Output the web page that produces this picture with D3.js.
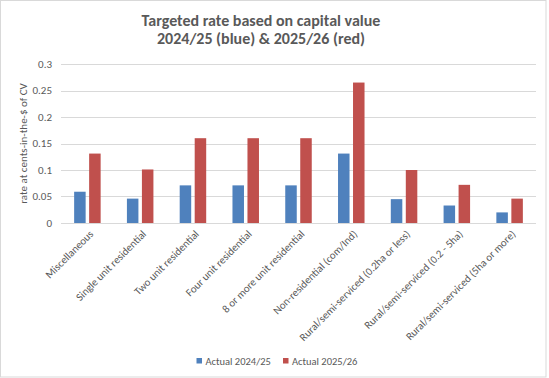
<!DOCTYPE html>
<html><head><meta charset="utf-8">
<script src="https://cdn.jsdelivr.net/npm/d3@7"></script>
<style>body{margin:0;background:#fff}svg{display:block}text{font-family:Carlito,Calibri,Lato,"Open Sans",sans-serif}</style>
</head><body>
<svg id="c" width="549" height="378"></svg>
<script>
const categories = ["Miscellaneous","Single unit residential","Two unit residential","Four unit residential","8 or more unit residential","Non-residential (com/Ind)","Rural/semi-serviced (0.2ha or less)","Rural/semi-serviced (0.2 - 5ha)","Rural/semi-serviced (5ha or more)"];
const seriesNames = ["Actual 2024/25","Actual 2025/26"];
const values2425 = [0.059,0.046,0.071,0.071,0.071,0.131,0.045,0.033,0.020];
const values2526 = [0.131,0.101,0.160,0.160,0.160,0.265,0.100,0.072,0.046];
const yTicks = [0,0.05,0.1,0.15,0.2,0.25,0.3];
const yTickLabels = ["0","0.05","0.1","0.15","0.2","0.25","0.3"];
const colors = ["#4f81bd","#c0504d"];

const svg = d3.select("#c");
svg.append("rect").attr("x",0.5).attr("y",0.5).attr("width",545.5).attr("height",376.5).attr("fill","#fff").attr("stroke","#d9d9d9");

const pLeft=61,pRight=536,pTop=64,pBottom=223;
const x0 = d3.scaleBand().domain(categories).range([pLeft,pRight]).padding(0);
const x1 = d3.scaleBand().domain(seriesNames).range([0,26.5]).paddingInner(0.233);
const y = d3.scaleLinear().domain([0,0.3]).range([pBottom,pTop]);

// gridlines
svg.append("g").selectAll("line").data(yTicks).join("line")
  .attr("x1",pLeft).attr("x2",pRight).attr("y1",d=>Math.round(y(d))+0.5).attr("y2",d=>Math.round(y(d))+0.5)
  .attr("stroke","#d9d9d9").attr("stroke-width",1);

// y tick labels
svg.append("g").selectAll("text").data(yTicks).join("text")
  .attr("x",52).attr("y",d=>y(d)).attr("dy","0.35em").attr("text-anchor","end")
  .attr("font-size",11).attr("fill","#595959").text((d,i)=>yTickLabels[i]);

// bars
const data = categories.map((c,i)=>({c, v:[values2425[i],values2526[i]]}));
const g = svg.append("g").selectAll("g").data(data).join("g")
  .attr("transform",d=>`translate(${x0(d.c)+x0.bandwidth()/2-13.25},0)`);
g.selectAll("rect").data(d=>d.v.map((v,j)=>({s:seriesNames[j],v,j}))).join("rect")
  .attr("x",d=>x1(d.s)).attr("width",x1.bandwidth())
  .attr("y",d=>y(d.v)).attr("height",d=>y(0)-y(d.v))
  .attr("fill",d=>colors[d.j]);

// x labels
svg.append("g").selectAll("text").data(categories).join("text")
  .attr("transform",d=>`translate(${x0(d)+x0.bandwidth()/2+4},${pBottom+9}) rotate(-45)`)
  .attr("text-anchor","end").attr("dy","0.35em")
  .attr("font-size",10.8).attr("fill","#595959").text(d=>d);

// y axis title
svg.append("text").attr("transform",`translate(27,${(pTop+pBottom)/2}) rotate(-90)`)
  .attr("text-anchor","middle").attr("font-size",11).attr("fill","#595959")
  .text("rate at cents-in-the-$ of CV");

// title
const title = svg.append("text").attr("text-anchor","middle").attr("font-size",16).attr("font-weight","bold").attr("fill","#595959");
title.append("tspan").attr("x",261).attr("y",25.5).text("Targeted rate based on capital value");
title.append("tspan").attr("x",261).attr("y",44).text("2024/25 (blue) & 2025/26 (red)");

// legend
const leg = svg.append("g").selectAll("g").data(seriesNames).join("g")
  .attr("transform",(d,i)=>`translate(${i===0?196.5:283},0)`);
leg.append("rect").attr("x",0).attr("y",358).attr("width",5.5).attr("height",5.5).attr("fill",(d,i)=>colors[i]);
leg.append("text").attr("x",9).attr("y",361).attr("dy","0.35em").attr("font-size",10.5).attr("fill","#595959").text(d=>d);
</script>
</body></html>
